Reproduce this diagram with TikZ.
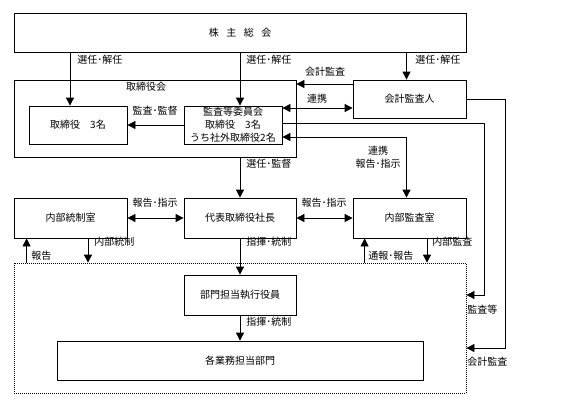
\documentclass[tikz,border=0pt]{standalone}
\usepackage{fontspec}
\setmainfont{Noto Sans CJK JP}
\usetikzlibrary{arrows.meta,calc}
\tikzstyle{box}=[rectangle,draw=black,line width=0.6pt,inner sep=0pt,anchor=center,align=center]
\tikzstyle{annot}=[inner sep=0pt,anchor=west]
\tikzstyle{arr}=[line width=0.6pt,-{Triangle[length=6pt,width=6pt]}]
\tikzstyle{darr}=[line width=0.6pt,{Triangle[length=6pt,width=6pt]}-{Triangle[length=6pt,width=6pt]}]
\newcommand{\gap}{\hspace{0.75em}}

\begin{document}
\begin{tikzpicture}[x=0.75pt,y=-0.75pt,font=\fontsize{7.5}{9.75}\selectfont]
	\useasboundingbox (0,0) rectangle (567,408);

	% boxes
	\node[box, minimum width=339pt, minimum height=29.25pt](soukai) at (240,32.5){株\gap 主\gap 総\gap 会};
	\node[box, minimum width=211.5pt, minimum height=57.75pt](board) at (155,118.5){};
	\node[box, minimum width=73.5pt, minimum height=28.5pt](tori) at (78,125){取締役　3名};
	\node[box, minimum width=73.5pt, minimum height=28.5pt](iinkai) at (233,125){監査等委員会\\取締役　3名\\うち社外取締役2名};
	\node[box, minimum width=84.75pt, minimum height=28.5pt](kaikei) at (409.5,99){会計監査人};
	\node[box, minimum width=84.75pt, minimum height=30pt](naibutousei) at (70.5,218){内部統制室};
	\node[box, minimum width=84pt, minimum height=30pt](shachou) at (240,218){代表取締役社長};
	\node[box, minimum width=84.75pt, minimum height=30pt](naibukansa) at (409.5,218){内部監査室};
	\node[box, dash pattern=on 0.75pt off 0.75pt, minimum width=339pt, minimum height=97.5pt](dotted) at (240,328){};
	\node[box, minimum width=84pt, minimum height=30pt](shikkou) at (240,295){部門担当執行役員};
	\node[box, minimum width=274.5pt, minimum height=29.25pt](bumon) at (240,360.5){各業務担当部門};

	% helper points
	\coordinate (a1) at ($(tori.north)+(-8,0)$);
	\coordinate (a3) at ($(kaikei.north)+(-3,0)$);
	\coordinate (k1) at ($(kaikei.west)+(0,-15)$);
	\coordinate (k2) at ($(kaikei.west)+(0,9)$);
	\coordinate (c1) at ($(iinkai.east)+(0,-2)$);
	\coordinate (c2) at ($(iinkai.east)+(0,12)$);
	\coordinate (r1) at ($(dotted.east)+(18,-33)$);
	\coordinate (r2) at ($(dotted.east)+(39,20)$);
	\coordinate (b1) at ($(naibutousei.south west)+(13,0)$);
	\coordinate (b2) at ($(naibutousei.south)+(17.5,0)$);
	\coordinate (b3) at ($(naibukansa.south west)+(12,0)$);
	\coordinate (b4) at ($(naibukansa.south)+(17.5,0)$);

	% connectors
	\draw[arr] (a1 |- soukai.south) -- (a1);
	\draw[arr] (shachou.north |- soukai.south) -- (shachou.north |- iinkai.north);
	\draw[arr] (a3 |- soukai.south) -- (a3);
	\draw[arr] (k1) -- (k1 -| board.east);
	\draw[darr] (k2 -| iinkai.east) -- (k2);
	\draw[arr] (iinkai.west) -- (tori.east);
	\draw[arr] (c1) -| (r1) -- (r1 -| dotted.east);
	\draw[arr] (kaikei.east) -| (r2) -- (r2 -| dotted.east);
	\draw[darr] (c2) -| (a3 |- naibukansa.north);
	\draw[arr] (shachou.north |- board.south) -- (shachou.north);
	\draw[darr] (naibutousei.east) -- (shachou.west);
	\draw[darr] (shachou.east) -- (naibukansa.west);
	\draw[arr] (b1 |- dotted.north) -- (b1);
	\draw[arr] (b2) -- (b2 |- dotted.north);
	\draw[arr] (shachou.south) -- (shikkou.north);
	\draw[arr] (b3 |- dotted.north) -- (b3);
	\draw[arr] (b4) -- (b4 |- dotted.north);
	\draw[arr] (shikkou.south) -- (bumon.north);

	% labels
	\node[annot, anchor=center](boardlbl) at (146,87){取締役会};
	\node[annot](l1) at (77,60){選任･解任};
	\node[annot](l2) at (246,60){選任･解任};
	\node[annot](l3) at (415,60){選任･解任};
	\node[annot, anchor=center](l4) at (325,72){会計監査};
	\node[annot, anchor=center](l5) at (317,99){連携};
	\node[annot, anchor=center](l6) at (155,111){監査･監督};
	\node[annot, anchor=center, align=center](l7) at (378,157.5){連携\\報告･指示};
	\node[annot](l8) at (246,164){選任･監督};
	\node[annot, anchor=center](l9) at (155,203){報告･指示};
	\node[annot, anchor=center](l10) at (324,203){報告･指示};
	\node[annot](l11) at (94,242){内部統制};
	\node[annot](l12) at (31,256){報告};
	\node[annot](l13) at (246,242){指揮･統制};
	\node[annot](l14) at (368,256){通報･報告};
	\node[annot](l15) at (432,242){内部監査};
	\node[annot](l16) at (467,310){監査等};
	\node[annot](l17) at (467,362){会計監査};
	\node[annot](l18) at (246,322){指揮･統制};

\end{tikzpicture}
\end{document}
